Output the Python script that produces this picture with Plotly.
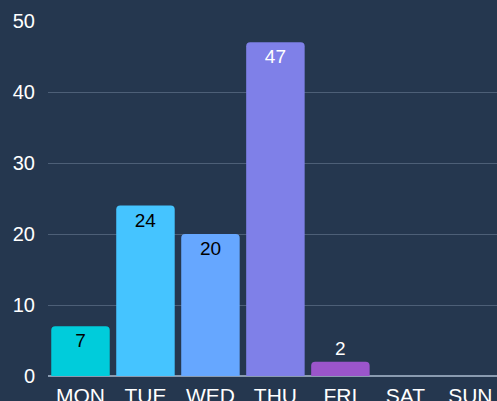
import plotly.graph_objects as go

days = ["MON", "TUE", "WED", "THU", "FRI", "SAT", "SUN"]
values = [7, 24, 20, 47, 2, None, None]
colors = ["#00CCDB", "#45C4FF", "#66A7FF", "#7F80E8", "#9B55CB", "#9B55CB", "#9B55CB"]
label_colors = ["#000000", "#000000", "#000000", "#FFFFFF", "#FFFFFF", "#FFFFFF", "#FFFFFF"]
positions = ["inside", "inside", "inside", "inside", "outside", "outside", "outside"]
y_ticks = [0, 10, 20, 30, 40, 50]

texts = ["" if v is None else str(v) for v in values]

fig = go.Figure(go.Bar(
    x=days, y=values,
    marker=dict(color=colors, line=dict(width=0)),
    text=texts,
    textposition=positions,
    insidetextanchor="end",
    textfont=dict(family="Liberation Sans, Arial, sans-serif", size=19, color=label_colors),
    outsidetextfont=dict(family="Liberation Sans, Arial, sans-serif", size=19, color="#FFFFFF"),
    constraintext="none",
    cliponaxis=False,
    hoverinfo="skip",
))

bg = "#25374F"
fig.update_layout(
    width=497, height=401,
    margin=dict(l=48, r=0, t=21, b=25, autoexpand=False),
    paper_bgcolor=bg, plot_bgcolor=bg,
    bargap=0.1,
    barcornerradius=4,
    showlegend=False,
    font=dict(family="Liberation Sans, Arial, sans-serif", color="#FFFFFF", size=19),
)
fig.update_xaxes(
    range=[-0.5, 6.41],
    automargin=False,
    showgrid=False, showline=False, zeroline=False,
    tickfont=dict(size=21, color="#FFFFFF"),
    ticks="outside", ticklen=1, tickcolor=bg,
)
fig.update_yaxes(
    range=[0, 50], tickvals=y_ticks,
    automargin=False,
    showgrid=True, gridcolor="#4D5F77", gridwidth=1,
    zeroline=True, zerolinecolor="#8A9BB0", zerolinewidth=1.5,
    showline=False,
    tickfont=dict(size=20, color="#FFFFFF"),
    ticks="outside", ticklen=8, tickcolor=bg,
)

fig.write_html(
    "out.html",
    config={"displayModeBar": False},
    post_script="document.body.style.margin='0';document.body.style.overflow='hidden';document.body.style.background='" + bg + "';",
)
